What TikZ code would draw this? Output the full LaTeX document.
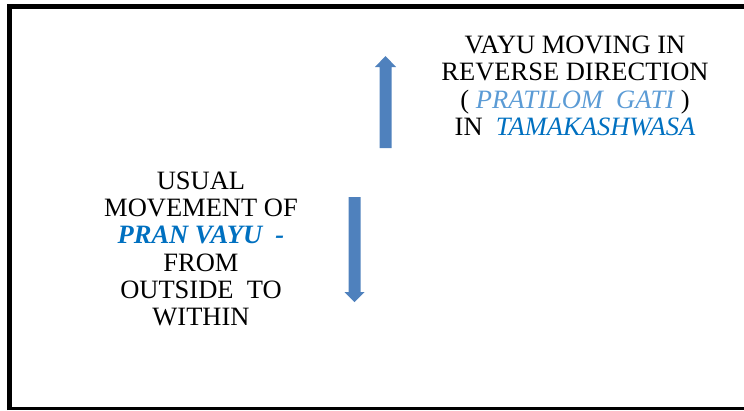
\documentclass[tikz,border=0pt]{standalone}
\usepackage{fontspec}
\setmainfont{Liberation Serif}
\newfontfamily\capfont{Liberation Serif}
\definecolor{arrowblue}{HTML}{4F81BD}
\definecolor{termblue}{HTML}{0070C0}
\definecolor{lightterm}{HTML}{5B9BD5}
\begin{document}
\begin{tikzpicture}[x=1pt,y=-1pt,
  caption/.style={align=center,font=\capfont\fontsize{26.5}{27.3}\selectfont,inner sep=0pt},
  blockarrow/.style={fill=arrowblue,draw=none}]
\useasboundingbox (0,0) rectangle (744,410);
% frame
\draw[line width=5pt] (9,410) -- (9,6.5) -- (744,6.5);
\draw[line width=3pt] (7,408.5) -- (744,408.5);
% upward arrow
\path[blockarrow] (379.5,148) -- (379.5,67) -- (375,67) -- (385.5,56) -- (396,67) -- (391.5,67) -- (391.5,148) -- cycle;
% downward arrow
\path[blockarrow] (348.5,197) -- (348.5,292) -- (344.5,292) -- (354.5,302) -- (364.5,292) -- (360.5,292) -- (360.5,197) -- cycle;
% captions
\node[caption] (rev) at (575,86) {VAYU MOVING IN\\REVERSE DIRECTION\\( \textcolor{lightterm}{\itshape PRATILOM\ \ GATI} )\\IN\ \ \textcolor{termblue}{\itshape TAMAKASHWASA}};
\node[caption] (usual) at (201,249) {USUAL\\MOVEMENT OF\\\textcolor{termblue}{\bfseries\itshape PRAN VAYU\ \ -}\\FROM\\OUTSIDE\ \ TO\\WITHIN};
\end{tikzpicture}
\end{document}
